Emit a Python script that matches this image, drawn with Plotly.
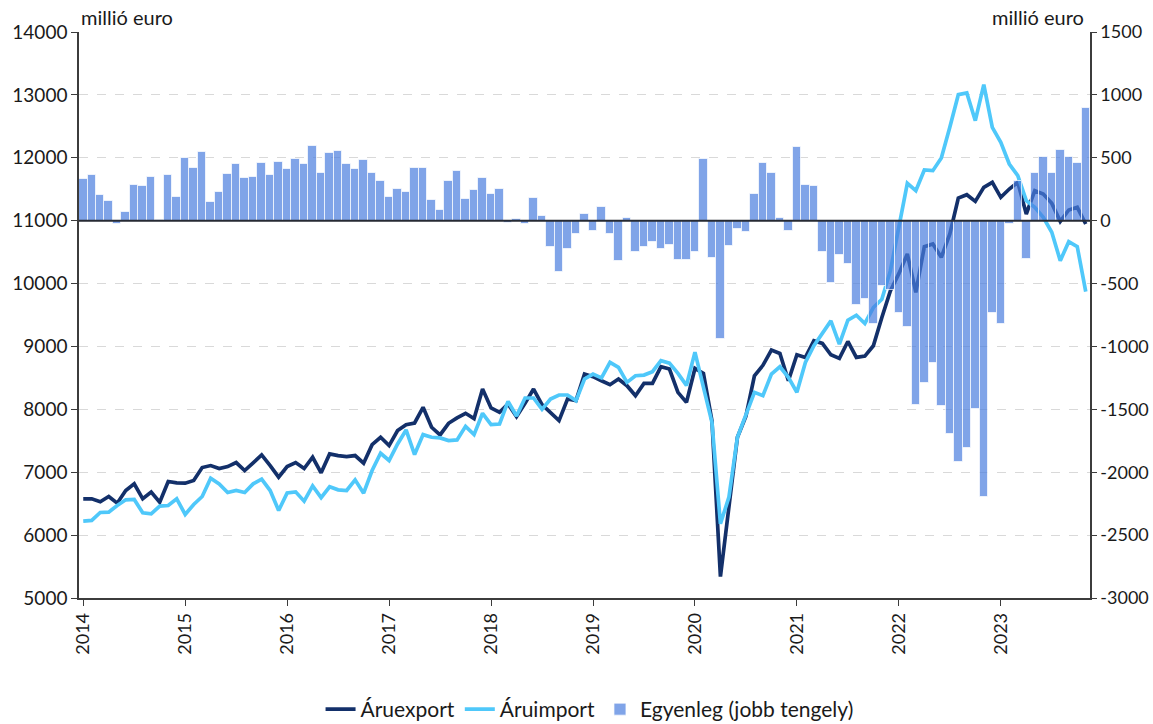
import plotly.graph_objects as go

# Monthly categories Jan 2014 – Nov 2023
months = [f"{y}-{m:02d}" for y in range(2014, 2024) for m in range(1, 13)][:119]
year_ticks = [f"{y}-01" for y in range(2014, 2024)]
year_labels = [str(y) for y in range(2014, 2024)]

export = [
    6577, 6577, 6530, 6614, 6508, 6709, 6815, 6577, 6683, 6524, 6852, 6831,
    6826, 6868, 7074, 7106, 7059, 7090, 7154, 7027, 7149, 7275, 7106, 6921,
    7090, 7154, 7059, 7238, 6990, 7291, 7265, 7249, 7265, 7143, 7439, 7556,
    7424, 7662, 7757, 7783, 8032, 7715, 7593, 7778, 7863, 7937, 7852, 8323,
    8021, 7953, 8085, 7884, 8095, 8323, 8074, 7937, 7820, 8164, 8138, 8561,
    8519, 8455, 8392, 8482, 8376, 8217, 8413, 8413, 8677, 8640, 8270, 8110,
    8650, 8571, 7820, 5340, 6392, 7556, 7890, 8534, 8700, 8942, 8889, 8455,
    8868, 8825, 9090, 9048, 8868, 8810, 9079, 8825, 8847, 9011, 9460, 9883,
    10158, 10470, 9860, 10587, 10629, 10417, 10788, 11360, 11413, 11307, 11530, 11609,
    11371, 11503, 11609, 11106, 11477, 11424, 11275, 10989, 11170, 11212, 10947,
]

imports = [
    6223, 6233, 6360, 6366, 6471, 6561, 6567, 6355, 6339, 6461, 6471, 6577,
    6329, 6487, 6614, 6905, 6815, 6678, 6709, 6678, 6815, 6889, 6709, 6392,
    6672, 6688, 6540, 6783, 6596, 6768, 6720, 6709, 6879, 6667, 7027, 7302,
    7186, 7450, 7672, 7281, 7598, 7556, 7545, 7503, 7514, 7730, 7598, 7937,
    7757, 7767, 8127, 7894, 8180, 8180, 8000, 8164, 8228, 8228, 8138, 8482,
    8561, 8500, 8746, 8667, 8429, 8534, 8545, 8598, 8773, 8735, 8571, 8380,
    8910, 8350, 7794, 6180, 6604, 7556, 7926, 8270, 8217, 8561, 8677, 8508,
    8270, 8746, 9011, 9222, 9407, 9037, 9418, 9497, 9365, 9619, 9751, 10201,
    10862, 11594, 11477, 11806, 11795, 11996, 12484, 13003, 13030, 12590, 13162, 12484,
    12246, 11901, 11716, 11318, 11212, 11053, 10815, 10364, 10666, 10587, 9871,
]

balance = [
    335, 362, 207, 160, -27, 66, 282, 274, 351, 8, 364, 186,
    497, 415, 548, 152, 231, 372, 447, 340, 346, 457, 367, 465,
    412, 489, 450, 596, 378, 540, 553, 450, 410, 481, 378, 314,
    186, 250, 229, 415, 415, 168, 85, 319, 394, 176, 242, 343,
    210, 253, -19, 10, -27, 184, 40, -210, -410, -226, -106, 56,
    -82, 109, -106, -322, 24, -253, -210, -168, -226, -197, -314, -311,
    -247, 492, -298, -939, -205, -64, -88, 210, 457, 380, 24, -85,
    585, 285, 274, -250, -497, -269, -346, -670, -625, -822, -516, -553,
    -737, -849, -1466, -1293, -1132, -1473, -1693, -1915, -1806, -1497, -2198, -735,
    -820, -26, 317, -307, 378, 505, 381, 558, 510, 460, 897,
]

left_ticks = list(range(5000, 14001, 1000))
right_ticks = list(range(-3000, 1501, 500))
right_labels = [str(v) for v in right_ticks]

FONT = "Lato"
AXC = "#3c3c3c"

fig = go.Figure()
fig.add_trace(go.Scatter(
    x=months, y=export, name="Áruexport", mode="lines",
    line=dict(color="#13306A", width=3.7), yaxis="y",
))
fig.add_trace(go.Scatter(
    x=months, y=imports, name="Áruimport", mode="lines",
    line=dict(color="#4FC8FA", width=3.7), yaxis="y",
))
fig.add_trace(go.Bar(
    x=months, y=balance, name="Egyenleg (jobb tengely)", yaxis="y2",
    marker=dict(color="rgba(74,126,222,0.7)",
                line=dict(color="rgba(255,255,255,0.7)", width=1)),
))

fig.update_layout(
    width=1153, height=724,
    margin=dict(l=79, r=63, t=32, b=126, autoexpand=False),
    plot_bgcolor="white", paper_bgcolor="white",
    font=dict(family=FONT, size=19, color="#1a1a1a"),
    bargap=0.0,
    showlegend=True,
    xaxis=dict(
        type="category", range=[-0.5, 118.5], automargin=False,
        tickmode="array", tickvals=year_ticks, ticktext=year_labels,
        tickangle=-90, ticks="outside", ticklen=6, tickcolor=AXC,
        showline=True, linecolor=AXC, linewidth=1.5,
        showgrid=False, zeroline=False, tickfont=dict(size=18),
    ),
    yaxis=dict(
        range=[5000, 14000], tickmode="array", tickvals=left_ticks,
        ticktext=[str(v) for v in left_ticks], automargin=False,
        showgrid=True, gridcolor="#d9d9d9", griddash="dash", gridwidth=1.3,
        showline=True, linecolor=AXC, linewidth=1.5,
        ticks="outside", ticklen=6, tickcolor=AXC, zeroline=False,
    ),
    yaxis2=dict(
        overlaying="y", side="right", range=[-3000, 1500], automargin=False,
        tickmode="array", tickvals=right_ticks, ticktext=right_labels,
        showgrid=False, zeroline=False,
        showline=True, linecolor=AXC, linewidth=1.5,
        ticks="outside", ticklen=5, tickcolor=AXC, tickfont=dict(size=18),
    ),
    legend=dict(
        orientation="h", x=0.505, xanchor="center", y=-0.197, yanchor="middle",
        font=dict(size=21), traceorder="normal", itemwidth=30,
    ),
    shapes=[dict(
        type="line", xref="paper", x0=0, x1=1, yref="y2", y0=0, y1=0,
        line=dict(color="#262a33", width=2), layer="above",
    )],
    annotations=[
        dict(text="millió euro", xref="paper", yref="paper", x=0, y=1,
             xanchor="left", yanchor="bottom", yshift=1, showarrow=False,
             font=dict(size=20)),
        dict(text="millió euro", xref="paper", yref="paper", x=1, y=1,
             xanchor="right", yanchor="bottom", yshift=1, xshift=-4,
             showarrow=False, font=dict(size=20)),
    ],
)

fig.write_html(
    "out.html",
    config={"displayModeBar": False},
    post_script="document.body.style.margin='0px';document.body.style.overflow='hidden';",
)
